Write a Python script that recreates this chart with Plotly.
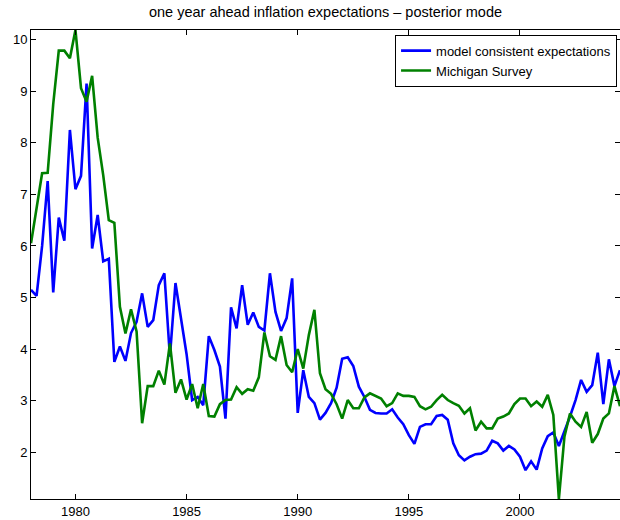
import numpy as np
import plotly.graph_objects as go

# quarterly observations, 1978Q1 .. 2004Q3
start_year = 1978.0
model_consistent = [
    5.15, 5.03, 6.00, 7.26, 5.10, 6.55, 6.10, 8.25, 7.10, 7.36,
    9.15, 5.95, 6.60, 5.70, 5.75, 3.75, 4.05, 3.77, 4.31, 4.53,
    5.08, 4.43, 4.56, 5.24, 5.47, 3.85, 5.28, 4.62, 3.90, 3.01,
    3.07, 2.91, 4.25, 3.98, 3.66, 2.65, 4.81, 4.40, 5.24, 4.47,
    4.71, 4.43, 4.36, 5.47, 4.72, 4.35, 4.60, 5.37, 2.76, 3.59,
    3.07, 2.95, 2.63, 2.76, 2.95, 3.25, 3.81, 3.84, 3.67, 3.27,
    3.07, 2.82, 2.76, 2.75, 2.75, 2.83, 2.67, 2.54, 2.33, 2.16,
    2.49, 2.54, 2.54, 2.70, 2.72, 2.63, 2.17, 1.94, 1.84, 1.91,
    1.96, 1.97, 2.03, 2.22, 2.17, 2.03, 2.12, 2.05, 1.91, 1.65,
    1.82, 1.66, 2.07, 2.31, 2.38, 2.12, 2.39, 2.69, 3.01, 3.40,
    3.17, 3.30, 3.93, 2.93, 3.80, 3.28, 3.59,
]
michigan = [
    6.05, 6.78, 7.41, 7.42, 8.75, 9.79, 9.79, 9.64, 10.19, 9.06,
    8.80, 9.30, 8.10, 7.37, 6.50, 6.45, 4.82, 4.30, 4.77, 4.34,
    2.56, 3.28, 3.28, 3.58, 3.31, 4.11, 3.15, 3.41, 3.02, 3.32,
    2.85, 3.32, 2.70, 2.69, 2.93, 3.01, 3.02, 3.26, 3.13, 3.22,
    3.19, 3.45, 4.32, 3.86, 3.79, 4.25, 3.69, 3.55, 4.00, 3.62,
    4.27, 4.76, 3.53, 3.22, 3.13, 2.93, 2.65, 3.01, 2.85, 2.85,
    3.06, 3.14, 3.09, 3.04, 2.89, 2.95, 3.14, 3.09, 3.09, 3.07,
    2.89, 2.83, 2.88, 3.01, 3.11, 3.01, 2.95, 2.90, 2.75, 2.85,
    2.42, 2.59, 2.46, 2.46, 2.65, 2.69, 2.75, 2.93, 3.04, 3.04,
    2.89, 2.98, 2.88, 3.11, 2.72, 1.09, 2.30, 2.75, 2.59, 2.49,
    2.78, 2.18, 2.35, 2.65, 2.75, 3.28, 2.89,
]
x_ticks = [1980, 1985, 1990, 1995, 2000]
y_ticks = [2, 3, 4, 5, 6, 7, 8, 9, 10]

dates = start_year + np.arange(len(model_consistent)) / 4.0

FONT = "Liberation Sans, Arial, Helvetica, sans-serif"

fig = go.Figure()
fig.add_trace(go.Scatter(x=dates, y=model_consistent, mode="lines",
                         name="model consistent expectations",
                         line=dict(color="rgb(0,0,255)", width=2.6)))
fig.add_trace(go.Scatter(x=dates, y=michigan, mode="lines",
                         name="Michigan Survey",
                         line=dict(color="rgb(0,128,0)", width=2.6)))

ymin = min(min(model_consistent), min(michigan))
ymax = max(max(model_consistent), max(michigan))

axis_common = dict(showgrid=False, zeroline=False, showline=True,
                   linecolor="black", linewidth=1, mirror="ticks",
                   ticks="inside", ticklen=5, tickcolor="black",
                   tickfont=dict(family=FONT, size=13, color="black"))

fig.update_xaxes(range=[dates[0], dates[-1]], tickvals=x_ticks,
                 ticktext=[str(v) for v in x_ticks], **axis_common)
fig.update_yaxes(range=[ymin, ymax], tickvals=y_ticks,
                 ticktext=[str(v) for v in y_ticks], **axis_common)

fig.update_layout(
    width=620, height=520,
    margin=dict(l=31, r=0, t=30, b=21, autoexpand=False),
    paper_bgcolor="white", plot_bgcolor="white",
    title=dict(text="one year ahead inflation expectations \u2013 posterior mode",
               x=0.5, xref="paper", xanchor="center",
               y=1 - 12 / 520, yref="container", yanchor="middle",
               font=dict(family=FONT, size=14.5, color="black")),
    legend=dict(x=0.995, y=0.99, xanchor="right", yanchor="top",
                bgcolor="white", bordercolor="black", borderwidth=1,
                font=dict(family=FONT, size=13, color="black"),
                tracegroupgap=0),
    showlegend=True,
)

fig.write_html("out.html",
               config={"displayModeBar": False},
               post_script="document.body.style.margin='0';"
                           "document.body.style.overflow='hidden';")
